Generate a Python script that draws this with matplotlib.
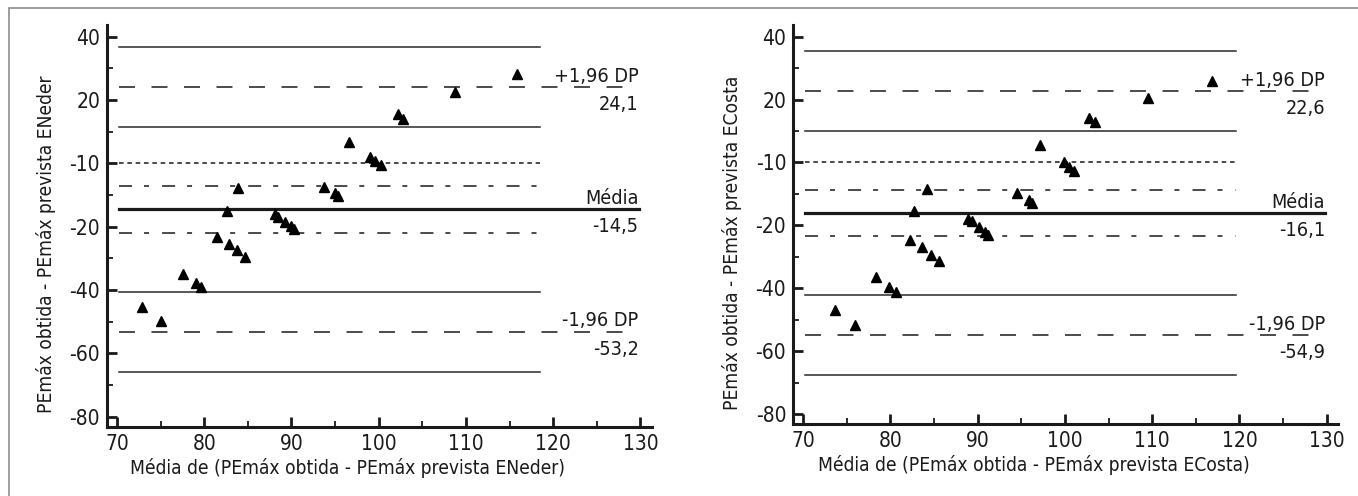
import numpy as np
import matplotlib
matplotlib.use("Agg")
from matplotlib import pyplot as plt
from matplotlib.patches import Rectangle

plt.rcParams['font.family'] = ['DejaVu Sans']
plt.rcParams['font.stretch'] = 'condensed'
plt.rcParams['lines.scale_dashes'] = False

# pontos (média, diferença) - ENeder
x_neder = [72.9, 75.0, 77.6, 79.0, 79.6, 81.5, 82.8, 83.8, 84.7, 82.6, 83.9,
           88.1, 88.5, 89.3, 90.0, 90.3, 93.7, 95.0, 95.3, 96.6, 99.0, 99.6,
           100.3, 102.2, 102.8, 108.7, 115.8]
y_neder = [-45.3, -49.7, -35.0, -37.9, -39.0, -23.2, -25.6, -27.4, -29.5, -15.1, -7.9,
           -16.1, -17.1, -18.6, -19.8, -20.9, -7.4, -9.4, -10.2, 6.8, 2.1, 0.8,
           -0.6, 15.6, 14.1, 22.6, 28.1]

# pontos (média, diferença) - ECosta
x_costa = [73.7, 76.0, 78.3, 79.9, 80.6, 82.2, 83.6, 84.6, 85.6, 82.7, 84.2,
           88.9, 89.4, 90.2, 90.8, 91.2, 94.5, 95.9, 96.2, 97.1, 99.9, 100.5,
           101.1, 102.8, 103.5, 109.5, 116.9]
y_costa = [-47.0, -51.8, -36.4, -39.6, -41.3, -24.6, -26.9, -29.3, -31.4, -15.3, -8.4,
           -17.9, -18.7, -20.6, -22.0, -22.9, -9.7, -11.9, -12.9, 5.5, 0.2, -1.4,
           -2.8, 14.3, 12.8, 20.4, 25.9]

# média, IC da média, limites de concordância e seus IC
media = [-14.5, -16.1]
media_ic = [(-7.1, -21.9), (-8.8, -23.4)]
lim_sup = [24.1, 22.6]
lim_sup_ic = [(11.4, 36.8), (9.9, 35.3)]
lim_inf = [-53.2, -54.9]
lim_inf_ic = [(-40.5, -65.9), (-42.0, -67.5)]
fim_linhas = [118.5, 119.6]

nomes = ['ENeder', 'ECosta']
yticks = [40, 20, 0, -20, -40, -60, -80]
ytick_labels = ['40', '20', '-10', '-20', '-40', '-60', '-80']
xticks = [70, 80, 90, 100, 110, 120, 130]

cor = '#1a1a1a'
fs = 15      # números dos eixos
fs_lab = 13.8  # títulos dos eixos e textos à direita

fig = plt.figure(figsize=(13.58, 4.96), dpi=100)
fig.patches.append(Rectangle((9 / 1358, -0.2), 1.2, 1.2 - 8 / 496,
                             transform=fig.transFigure, fill=False,
                             edgecolor='#8c8c8c', linewidth=1.2))

posicoes = [[0.0788, 0.1397, 0.4011, 0.81], [0.584, 0.1446, 0.4013, 0.805]]
dados = [(x_neder, y_neder), (x_costa, y_costa)]

for i in range(2):
    ax = fig.add_axes(posicoes[i])
    xs, ys = dados[i]
    x0 = 70.2
    x1 = fim_linhas[i]
    xr = 129.8

    # IC dos limites (linhas contínuas finas)
    for v in lim_sup_ic[i] + lim_inf_ic[i]:
        ax.plot([x0, x1], [v, v], color='#2a2a2a', lw=1.1)
    # limites de concordância
    for v in [lim_sup[i], lim_inf[i]]:
        ax.plot([x0, xr], [v, v], color=cor, lw=1.1, linestyle=(0, (11.5, 11.9)))
    # zero
    ax.plot([x0, x1], [0, 0], color=cor, lw=1.1, linestyle=(0, (3.3, 2.7)))
    # IC da média
    for v in media_ic[i]:
        ax.plot([x0, x1], [v, v], color=cor, lw=1.1,
                linestyle=(0, (9.4, 8.6, 3.6, 9.4)))
    # média
    ax.plot([x0, xr], [media[i], media[i]], color=cor, lw=2.3)

    ax.plot(xs, ys, linestyle='none', marker='^', markersize=7.5, color='black')

    # textos à direita
    for rot, val in [('+1,96 DP', lim_sup[i]), ('Média', media[i]), ('-1,96 DP', lim_inf[i])]:
        ax.annotate(rot, (xr, val), xytext=(0, 3.8), textcoords='offset points',
                    ha='right', va='baseline', fontsize=fs_lab + 0.4, color=cor)
        ax.annotate(('%.1f' % val).replace('.', ','), (xr, val), xytext=(0, -16.5),
                    textcoords='offset points', ha='right', va='baseline',
                    fontsize=fs_lab + 0.4, color=cor)

    ax.set_xlim(68.85, 131.3)
    ax.set_ylim(-83.2, 43.7)
    ax.set_xticks(xticks)
    ax.set_xticks([75, 85, 95, 105, 115, 125], minor=True)
    ax.set_yticks(yticks)
    ax.set_yticklabels(ytick_labels)
    ax.set_yticks([30, 10, -10, -30, -50, -70], minor=True)
    ax.tick_params(which='major', direction='in', length=7.5, width=2.0,
                   labelsize=fs, colors=cor, pad=5)
    ax.tick_params(which='minor', direction='in', length=4, width=1.3, colors=cor)
    for s in ['top', 'right']:
        ax.spines[s].set_visible(False)
    for s in ['left', 'bottom']:
        ax.spines[s].set_linewidth(2.2)
        ax.spines[s].set_color(cor)
    ax.set_facecolor('none')

    ax.set_xlabel('Média de (PEmáx obtida - PEmáx prevista %s)' % nomes[i],
                  fontsize=fs_lab, color=cor)
    ax.set_ylabel('PEmáx obtida - PEmáx prevista %s' % nomes[i],
                  fontsize=fs_lab, color=cor)
    ax.xaxis.set_label_coords(0.442, -0.078)
    ax.yaxis.set_label_coords(-0.094, 0.455)

fig.savefig('out.png', dpi=100)
